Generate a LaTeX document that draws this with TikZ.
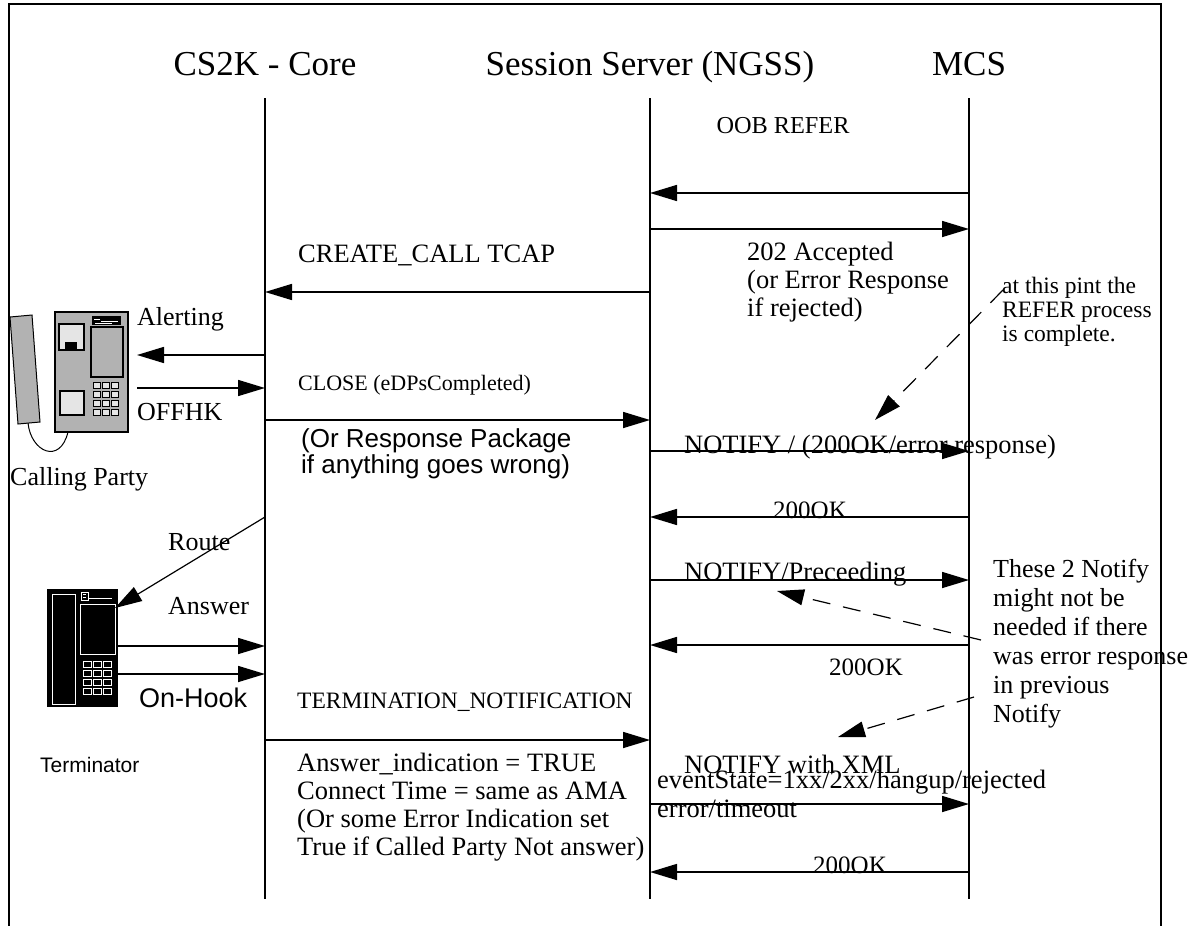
\documentclass[tikz,border=0pt]{standalone}
\usepackage{fontspec}
\setmainfont{Liberation Serif}
\setsansfont{Liberation Sans}
\usetikzlibrary{arrows.meta}
\begin{document}
\begin{tikzpicture}[x=1pt,y=-1pt,
  lane/.style={line width=1.6pt},
  msg/.style={line width=1.6pt,-{Triangle[length=27pt,width=16pt]}},
  note/.style={line width=1.2pt,dash pattern=on 18pt off 13pt,-{Triangle[length=27pt,width=16pt]}},
  head/.style={inner sep=0pt,anchor=base,font=\fontsize{35}{40}\selectfont},
  lbl/.style={inner sep=0pt,anchor=base west,font=\fontsize{26.5}{28}\selectfont},
  clbl/.style={inner sep=0pt,anchor=base,font=\fontsize{25}{28}\selectfont},
  blk/.style={inner sep=0pt,anchor=base west,align=left}
]
\useasboundingbox (0,0) rectangle (1199,926);
\fill[white] (0,0) rectangle (1199,926);

% outer frame (open at the bottom)
\draw[line width=2pt] (9,926) -- (9,4) -- (1161,4) -- (1161,926);

% lifeline heads
\node[head] (corehd) at (265,75) {CS2K - Core};
\node[head] (ngsshd) at (650,75) {Session Server (NGSS)};
\node[head] (mcshd)  at (969,75) {MCS};

% lifelines
\coordinate (core) at (265,0);
\coordinate (ngss) at (650,0);
\coordinate (mcs)  at (969,0);
\draw[lane] ([yshift=-98pt]core) -- ([yshift=-899pt]core);
\draw[lane] ([yshift=-98pt]ngss) -- ([yshift=-899pt]ngss);
\draw[lane] ([yshift=-98pt]mcs)  -- ([yshift=-899pt]mcs);

% endpoints at the two telephones
\coordinate (cphone) at (137,0);
\coordinate (tphone) at (117,0);
\coordinate (tscreen) at (115,608);

% ---------- calling party telephone ----------
\begin{scope}[line width=1pt]
  \draw[fill=black!30] (10,317) -- (32,315) -- (40,422) -- (18,424) -- cycle;
  \draw (28,423) .. controls (31,452) and (60,465) .. (68,432);
  \draw[line width=1.6pt,fill=black!30] (55,312) rectangle (128,432);
  \draw[line width=1.3pt,fill=black!10] (59,324) rectangle (84,350);
  \fill (65,342) rectangle (77,350);
  \fill (92,316) rectangle (121,325);
  \draw[white,line width=0.8pt] (94,319) -- (100,319) (101,321) -- (118,321) (95,323) -- (112,323);
  \draw[line width=1.3pt,fill=black!30] (91,327) rectangle (123,377);
  \draw[line width=1.3pt,fill=black!10] (60,391) rectangle (84,415);
  \foreach \cx in {93,102,111}
    \foreach \cy in {382,391,400,409}
      \draw[line width=1pt,fill=black!10] (\cx,\cy) rectangle ++(7,6);
\end{scope}

% ---------- terminator telephone ----------
\begin{scope}[line width=1pt]
  \fill (47,589) rectangle (118,707);
  \draw[white] (52,594) rectangle (75,704);
  \draw[white] (80,604) rectangle (115,654);
  \draw[white] (81,592) rectangle (88,600);
  \draw[white] (83,594) -- (86,594) (83,597) -- (86,597);
  \draw[white] (89,598) -- (112,598);
  \foreach \cx in {83,93,103}
    \foreach \cy in {661,670,679,688}
      \draw[white] (\cx,\cy) rectangle ++(8,6);
\end{scope}

% ---------- messages ----------
\draw[msg] ([yshift=-193pt]mcs)  -- ([yshift=-193pt]ngss);
\draw[msg] ([yshift=-229pt]ngss) -- ([yshift=-229pt]mcs);
\draw[msg] ([yshift=-292pt]ngss) -- ([yshift=-292pt]core);
\draw[msg] ([yshift=-355pt]core) -- ([yshift=-355pt]cphone);
\draw[msg] ([yshift=-388pt]cphone) -- ([yshift=-388pt]core);
\draw[msg] ([yshift=-420pt]core) -- ([yshift=-420pt]ngss);
\draw[msg] ([yshift=-451pt]ngss) -- ([yshift=-451pt]mcs);
\draw[msg] ([yshift=-517pt]mcs)  -- ([yshift=-517pt]ngss);
\draw[line width=1.2pt,-{Triangle[length=27pt,width=16pt]}] ([yshift=-517pt]core) -- (tscreen);
\draw[msg] ([yshift=-580pt]ngss) -- ([yshift=-580pt]mcs);
\draw[msg] ([yshift=-645pt]mcs)  -- ([yshift=-645pt]ngss);
\draw[msg] ([yshift=-646pt]tphone) -- ([yshift=-646pt]core);
\draw[msg] ([yshift=-674pt]tphone) -- ([yshift=-674pt]core);
\draw[msg] ([yshift=-740pt]core) -- ([yshift=-740pt]ngss);
\draw[msg] ([yshift=-804pt]ngss) -- ([yshift=-804pt]mcs);
\draw[msg] ([yshift=-872pt]mcs)  -- ([yshift=-872pt]ngss);

% ---------- labels (multi-line blocks are placed by their last baseline) ----------
\node[clbl,font=\fontsize{24.3}{28}\selectfont] (oob) at (783,133) {OOB REFER};
\node[blk,font=\fontsize{26.5}{28}\selectfont] (acc) at (747,316)
  {202 Accepted\\(or Error Response\\if rejected)};
\node[lbl] (create) at (298,262) {CREATE\_CALL TCAP};
\node[lbl,font=\fontsize{26}{28}\selectfont] (alert) at (137,325) {Alerting};
\node[lbl,font=\fontsize{26}{28}\selectfont] (offhk) at (137,420) {OFFHK};
\node[lbl,font=\fontsize{26}{28}\selectfont] (calling) at (10,485) {Calling Party};
\node[lbl,font=\fontsize{22}{28}\selectfont] (close) at (298,390) {CLOSE (eDPsCompleted)};
\node[blk,font=\sffamily\fontsize{26}{26}\selectfont] (resp) at (301,473)
  {(Or Response Package\\if anything goes wrong)};
\node[blk,font=\fontsize{23.5}{24}\selectfont] (pint) at (1002,341)
  {at this pint the\\REFER process\\is complete.};
\node[lbl] (notify1) at (684,453) {NOTIFY / (200OK/error response)};
\node[clbl] (ok1) at (810,518) {200OK};
\node[lbl,font=\fontsize{26}{28}\selectfont] (route) at (168,550) {Route};
\node[lbl,font=\fontsize{26}{28}\selectfont] (answer) at (168,614) {Answer};
\node[lbl,font=\sffamily\fontsize{27}{27}\selectfont] (onhook) at (139,707) {On-Hook};
\node[lbl,font=\sffamily\fontsize{21}{21}\selectfont] (term) at (40,772) {Terminator};
\node[lbl] (prec) at (684,580) {NOTIFY/Preceeding};
\node[blk,font=\fontsize{26}{29}\selectfont] (two) at (993,722)
  {These 2 Notify\\might not be\\needed if there\\was error response\\in previous\\Notify};
\node[clbl] (ok2) at (866,675) {200OK};
\node[lbl,font=\fontsize{23.5}{28}\selectfont] (termn) at (297,708) {TERMINATION\_NOTIFICATION};
\node[blk,font=\fontsize{26.5}{27.7}\selectfont] (ansind) at (297,855)
  {Answer\_indication = TRUE\\Connect Time = same as AMA\\(Or some Error Indication set\\True if Called Party Not answer)};
\node[lbl] (xml) at (684,773) {NOTIFY with XML};
\node[blk,font=\fontsize{26.5}{29}\selectfont] (evst) at (657,817)
  {eventState=1xx/2xx/hangup/rejected\\error/timeout};
\node[clbl] (ok3) at (850,873) {200OK};

% ---------- dashed remarks ----------
\coordinate (pintA) at (1003,290);
\coordinate (pintB) at (875,420);
\coordinate (twoA) at (981,640);
\coordinate (twoB) at (777,591);
\coordinate (twoC) at (974,697);
\coordinate (twoD) at (838,737);
\draw[note] (pintA) -- (pintB);
\draw[note] (twoA) -- (twoB);
\draw[note] (twoC) -- (twoD);
\end{tikzpicture}
\end{document}
